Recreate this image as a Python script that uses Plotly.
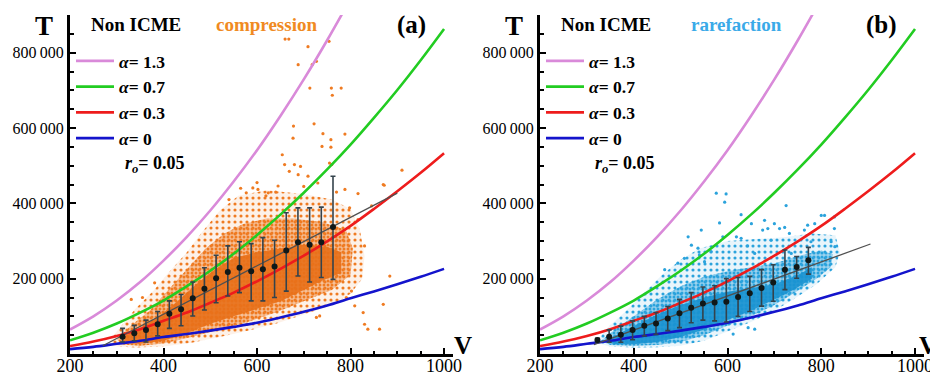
import plotly.graph_objects as go

# ---------------- model curves (same in both panels) ----------------
V_CURVE = [200, 250, 300, 350, 400, 450, 500, 550, 600, 650, 700, 750, 800, 850, 900, 950, 1000]
T_A13 = [65000, 100000, 142000, 191000, 248000, 311000, 381000, 458000, 541000, 632000, 729000, 833000, 943000]
T_A07 = [36500, 56600, 81000, 110000, 142000, 180000, 221000, 266000, 316000, 370000, 428000, 490000, 556000, 627000, 701000, 780000, 863000]
T_A03 = [21000, 33000, 48000, 66000, 88000, 110000, 136000, 163000, 193000, 226000, 261000, 299000, 340000, 385000, 432000, 481000, 533000]
T_A00 = [13000, 19000, 27000, 35000, 45000, 53000, 62000, 72000, 83000, 97000, 112000, 129000, 148000, 166000, 185000, 205000, 226000]
CURVE_NAMES = ["1.3", "0.7", "0.3", "0"]
CURVE_COLORS = ["#d98ad9", "#22cc22", "#ee1c1c", "#1414cc"]

# ---------------- binned means with error bars ----------------
V_BIN_A = [312.5, 337.5, 362.5, 387.5, 412.5, 437.5, 462.5, 487.5, 512.5, 537.5, 562.5, 587.5, 612.5, 637.5, 662.5, 687.5, 712.5, 737.5, 762.5]
MEAN_A = [46000, 55000, 64000, 79000, 107000, 119000, 148000, 173000, 201000, 218000, 229000, 220000, 225000, 232000, 275000, 297000, 290000, 297000, 337000]
HI_A = [68000, 76000, 90000, 113000, 141000, 158000, 191000, 229000, 262000, 287000, 298000, 293000, 309000, 302000, 375000, 388000, 388000, 390000, 472000]
LO_A = [32000, 35000, 32000, 48000, 68000, 75000, 101000, 117000, 136000, 154000, 163000, 141000, 141000, 150000, 167000, 207000, 191000, 203000, 198000]

V_BIN_B = [322.5, 347.5, 372.5, 397.5, 422.5, 447.5, 472.5, 497.5, 522.5, 547.5, 572.5, 597.5, 622.5, 647.5, 672.5, 697.5, 722.5, 747.5, 772.5]
MEAN_B = [37000, 46000, 51000, 64000, 75000, 81000, 94000, 108000, 123000, 134000, 137000, 139000, 151000, 161000, 175000, 190000, 224000, 231000, 249000]
HI_B = [42000, 64000, 74000, 88000, 100000, 110000, 126000, 145000, 163000, 178000, 181000, 200000, 203000, 206000, 224000, 237000, 276000, 259000, 283000]
LO_B = [32000, 31000, 31000, 38000, 48000, 52000, 62000, 70000, 83000, 90000, 88000, 85000, 100000, 113000, 127000, 140000, 171000, 201000, 212000]

# regression lines
FIT_V_A = [270, 900]
FIT_T_A = [22000, 427000]
FIT_V_B = [315, 905]
FIT_T_B = [25000, 292000]

# ---------------- point clouds: density envelopes ----------------
A_OUT_V = [285, 300, 340, 380, 410, 450, 480, 520, 560, 620, 700, 760, 800, 820, 830, 825, 800, 760, 700, 640, 580, 520, 460, 400, 340, 300]
A_OUT_T = [35000, 60000, 120000, 170000, 215000, 270000, 320000, 380000, 420000, 435000, 425000, 410000, 385000, 330000, 260000, 200000, 160000, 130000, 105000, 80000, 62000, 45000, 30000, 20000, 17000, 20000]
A_MID_V = [300, 330, 370, 410, 450, 490, 530, 570, 620, 680, 740, 790, 805, 800, 760, 700, 640, 580, 520, 460, 400, 350, 310]
A_MID_T = [40000, 75000, 115000, 170000, 225000, 280000, 320000, 345000, 360000, 360000, 350000, 330000, 280000, 210000, 170000, 140000, 110000, 85000, 65000, 45000, 28000, 22000, 25000]
A_CORE_V = [315, 350, 390, 430, 470, 510, 550, 600, 650, 700, 750, 780, 780, 740, 700, 650, 600, 550, 500, 450, 400, 350, 320]
A_CORE_T = [45000, 70000, 100000, 140000, 185000, 225000, 255000, 270000, 280000, 290000, 285000, 270000, 215000, 195000, 170000, 140000, 120000, 100000, 80000, 55000, 35000, 27000, 28000]

A_PTS_V = [660, 668, 754, 709, 688, 718, 727, 713, 759, 780, 761, 722, 678, 677, 741, 788, 758, 739, 758, 654, 659, 680, 693, 669, 688, 709, 755, 760, 910, 872, 816, 788, 730, 591, 602, 577, 624, 640, 645, 619,
           884, 870, 827, 837, 862, 830, 809, 791, 802, 734, 727, 830, 816, 870, 845, 798, 331, 381, 355, 540, 565, 600, 700, 770]
A_PTS_T = [836000, 836000, 830000, 816000, 768000, 768000, 777000, 706000, 706000, 706000, 687000, 611000, 605000, 573000, 585000, 584000, 569000, 551000, 549000, 529000, 503000, 503000, 498000, 485000, 476000, 472000, 507000, 503000, 488000, 448000, 426000, 437000, 454000, 441000, 437000, 428000, 428000, 430000, 446000, 420000,
           207000, 132000, 110000, 66000, 66000, 79000, 128000, 150000, 167000, 101000, 97000, 287000, 357000, 450000, 393000, 388000, 145000, 189000, 150000, 410000, 440000, 455000, 445000, 430000]

B_OUT_V = [320, 340, 380, 420, 460, 500, 540, 600, 660, 720, 780, 830, 840, 830, 790, 740, 700, 650, 600, 550, 500, 450, 400, 350]
B_OUT_T = [30000, 65000, 110000, 160000, 210000, 250000, 280000, 300000, 305000, 310000, 320000, 315000, 270000, 230000, 185000, 145000, 115000, 85000, 60000, 35000, 22000, 18000, 17000, 20000]
B_MID_V = [330, 360, 400, 450, 500, 550, 600, 650, 700, 750, 800, 825, 820, 790, 740, 700, 650, 600, 550, 500, 450, 400, 350]
B_MID_T = [35000, 65000, 100000, 145000, 180000, 205000, 220000, 230000, 240000, 260000, 275000, 265000, 230000, 200000, 160000, 130000, 100000, 75000, 50000, 32000, 24000, 22000, 24000]
B_CORE_V = [340, 370, 410, 450, 500, 550, 600, 650, 700, 750, 780, 780, 740, 700, 650, 600, 550, 500, 450, 400, 360]
B_CORE_T = [32000, 55000, 80000, 105000, 130000, 150000, 165000, 175000, 185000, 210000, 230000, 200000, 170000, 145000, 115000, 90000, 65000, 45000, 32000, 26000, 26000]

B_PTS_V = [576, 597, 594, 679, 675, 711, 771, 807, 828, 523, 537, 565, 590, 629, 651, 693, 732, 778, 821, 829, 494, 466, 508, 551, 736, 725, 700, 800, 629, 583, 544, 516, 619, 686, 722, 764, 786, 828, 540, 643, 658, 612, 644, 658]
B_PTS_T = [427000, 425000, 403000, 355000, 329000, 333000, 342000, 368000, 364000, 289000, 281000, 272000, 311000, 307000, 346000, 302000, 320000, 298000, 298000, 285000, 241000, 224000, 254000, 245000, 267000, 394000, 346000, 368000, 370000, 348000, 329000, 311000, 311000, 333000, 336000, 329000, 346000, 333000, 263000, 287000, 267000, 53000, 70000, 66000]

X_TICKS = [200, 400, 600, 800, 1000]
Y_TICKS = [200000, 400000, 600000, 800000]
Y_TICKTEXT = ["200\u2009000", "400\u2009000", "600\u2009000", "800\u2009000"]

SERIF = "Liberation Serif"
W, H = 938, 378
MT, MB = 7, 31.5
PH = H - MT - MB


def px_x(p):
    return p / W


def px_y(p):
    return (H - MB - p) / PH


fig = go.Figure()

panels = [
    dict(xa="x", ya="y", leg="legend", off=0,
         col="#ef7b22", core="rgba(232,112,26,0.9)", mid="rgba(236,120,34,0.40)", out="rgba(236,120,34,0.10)",
         out_v=A_OUT_V, out_t=A_OUT_T, mid_v=A_MID_V, mid_t=A_MID_T, core_v=A_CORE_V, core_t=A_CORE_T,
         pv=A_PTS_V, pt=A_PTS_T, bv=V_BIN_A, bm=MEAN_A, bh=HI_A, bl=LO_A, fv=FIT_V_A, ft=FIT_T_A),
    dict(xa="x2", ya="y2", leg="legend2", off=470,
         col="#2ba3dc", core="rgba(26,146,208,0.9)", mid="rgba(40,160,220,0.40)", out="rgba(40,160,220,0.10)",
         out_v=B_OUT_V, out_t=B_OUT_T, mid_v=B_MID_V, mid_t=B_MID_T, core_v=B_CORE_V, core_t=B_CORE_T,
         pv=B_PTS_V, pt=B_PTS_T, bv=V_BIN_B, bm=MEAN_B, bh=HI_B, bl=LO_B, fv=FIT_V_B, ft=FIT_T_B),
]

for p in panels:
    fig.add_trace(go.Scatter(x=p["out_v"], y=p["out_t"], fill="toself", mode="none",
                             fillcolor=p["out"],
                             fillpattern=dict(shape=".", size=6, solidity=0.22, fgcolor=p["col"],
                                              bgcolor=p["out"], fillmode="replace"),
                             xaxis=p["xa"], yaxis=p["ya"], showlegend=False, hoverinfo="skip"))
    fig.add_trace(go.Scatter(x=p["mid_v"], y=p["mid_t"], fill="toself", mode="none",
                             fillcolor=p["mid"],
                             fillpattern=dict(shape=".", size=4, solidity=0.45, fgcolor=p["col"],
                                              bgcolor=p["mid"], fillmode="replace"),
                             xaxis=p["xa"], yaxis=p["ya"], showlegend=False, hoverinfo="skip"))
    fig.add_trace(go.Scatter(x=p["core_v"], y=p["core_t"], fill="toself", mode="none",
                             fillcolor=p["core"],
                             xaxis=p["xa"], yaxis=p["ya"], showlegend=False, hoverinfo="skip"))
    fig.add_trace(go.Scatter(x=p["pv"], y=p["pt"], mode="markers",
                             marker=dict(size=3.2, color=p["col"]),
                             xaxis=p["xa"], yaxis=p["ya"], showlegend=False, hoverinfo="skip"))
    for name, tv, c in zip(CURVE_NAMES, [T_A13, T_A07, T_A03, T_A00], CURVE_COLORS):
        fig.add_trace(go.Scatter(x=V_CURVE[:len(tv)], y=tv, mode="lines",
                                 line=dict(color=c, width=2.6, shape="spline"),
                                 name="<b><i>\u03b1</i>= " + name + "</b>",
                                 legend=p["leg"], xaxis=p["xa"], yaxis=p["ya"]))
    fig.add_trace(go.Scatter(x=p["fv"], y=p["ft"], mode="lines",
                             line=dict(color="#505050", width=1.3),
                             xaxis=p["xa"], yaxis=p["ya"], showlegend=False, hoverinfo="skip"))
    fig.add_trace(go.Scatter(x=p["bv"], y=p["bm"], mode="markers",
                             marker=dict(size=6, color="#101818"),
                             error_y=dict(type="data", symmetric=False,
                                          array=[h - m for h, m in zip(p["bh"], p["bm"])],
                                          arrayminus=[m - l for m, l in zip(p["bm"], p["bl"])],
                                          color="#34434c", thickness=1.6, width=2.5),
                             xaxis=p["xa"], yaxis=p["ya"], showlegend=False))

axis_common = dict(showgrid=False, zeroline=False, showline=True, linecolor="black", linewidth=3,
                   ticks="inside", tickcolor="black", tickwidth=2, ticklen=6, automargin=False)
x_font = dict(family=SERIF, size=18, color="black")
y_font = dict(family=SERIF, size=16, color="black")
x_minor = dict(tickvals=[v for v in range(250, 1001, 50) if v not in X_TICKS], ticks="inside",
               ticklen=3.5, tickwidth=2, tickcolor="black")
y_minor = dict(tickvals=[v for v in range(50000, 900001, 50000) if v not in Y_TICKS], ticks="inside",
               ticklen=3.5, tickwidth=2, tickcolor="black")

xr = [200, 1020]
yr = [0, 900000]

layout = dict(
    template="none",
    width=W, height=H, margin=dict(l=0, r=0, t=MT, b=MB, autoexpand=False),
    paper_bgcolor="white", plot_bgcolor="white",
    xaxis=dict(domain=[px_x(62), px_x(445.4)], range=xr, anchor="y", tickvals=X_TICKS, minor=x_minor,
               ticklabelstandoff=-7, tickfont=x_font, **axis_common),
    yaxis=dict(domain=[0, 1], range=yr, anchor="x", tickvals=Y_TICKS, ticktext=Y_TICKTEXT, minor=y_minor,
               tickfont=y_font, **axis_common),
    xaxis2=dict(domain=[px_x(532), px_x(916.4)], range=xr, anchor="y2", tickvals=X_TICKS, minor=x_minor,
                ticklabelstandoff=-7, tickfont=x_font, **axis_common),
    yaxis2=dict(domain=[0, 1], range=yr, anchor="x2", tickvals=Y_TICKS, ticktext=Y_TICKTEXT, minor=y_minor,
                tickfont=y_font, **axis_common),
    showlegend=True,
)
for key, off in [("legend", 0), ("legend2", 470)]:
    layout[key] = dict(x=px_x(63 + off), y=px_y(35), xanchor="left", yanchor="top",
                       font=dict(family=SERIF, size=17.5, color="black"), bgcolor="rgba(0,0,0,0)",
                       tracegroupgap=0, itemwidth=38)
fig.update_layout(**layout)

ann = []
for off, lab, word, wcol, vx in [(0, "(a)", "compression", "#f08a22", 455), (470, "(b)", "rarefaction", "#3aaae8", 450)]:
    ann += [
        dict(text="<b>T</b>", x=px_x(36 + off), y=px_y(18), font=dict(size=27)),
        dict(text="<b>V</b>", x=px_x(vx + off), y=px_y(338), font=dict(size=25)),
        dict(text="<b>Non ICME</b>", x=px_x(128 + off), y=px_y(17), font=dict(size=19)),
        dict(text="<b>" + word + "</b>", x=px_x(258 + off), y=px_y(17), font=dict(size=19, color=wcol)),
        dict(text="<b>" + lab + "</b>", x=px_x(403 + off), y=px_y(17), font=dict(size=25)),
        dict(text="<b><i>r</i><sub><i>o</i></sub>= 0.05</b>", x=px_x(115 + off), y=px_y(157), xanchor="left",
             font=dict(size=18)),
    ]
for a in ann:
    a.setdefault("xanchor", "center")
    a.update(xref="paper", yref="paper", yanchor="middle", showarrow=False)
    a["font"] = dict(family=SERIF, color=a["font"].get("color", "black"), size=a["font"]["size"])
fig.update_layout(annotations=ann)

fig.write_html("out.html")
